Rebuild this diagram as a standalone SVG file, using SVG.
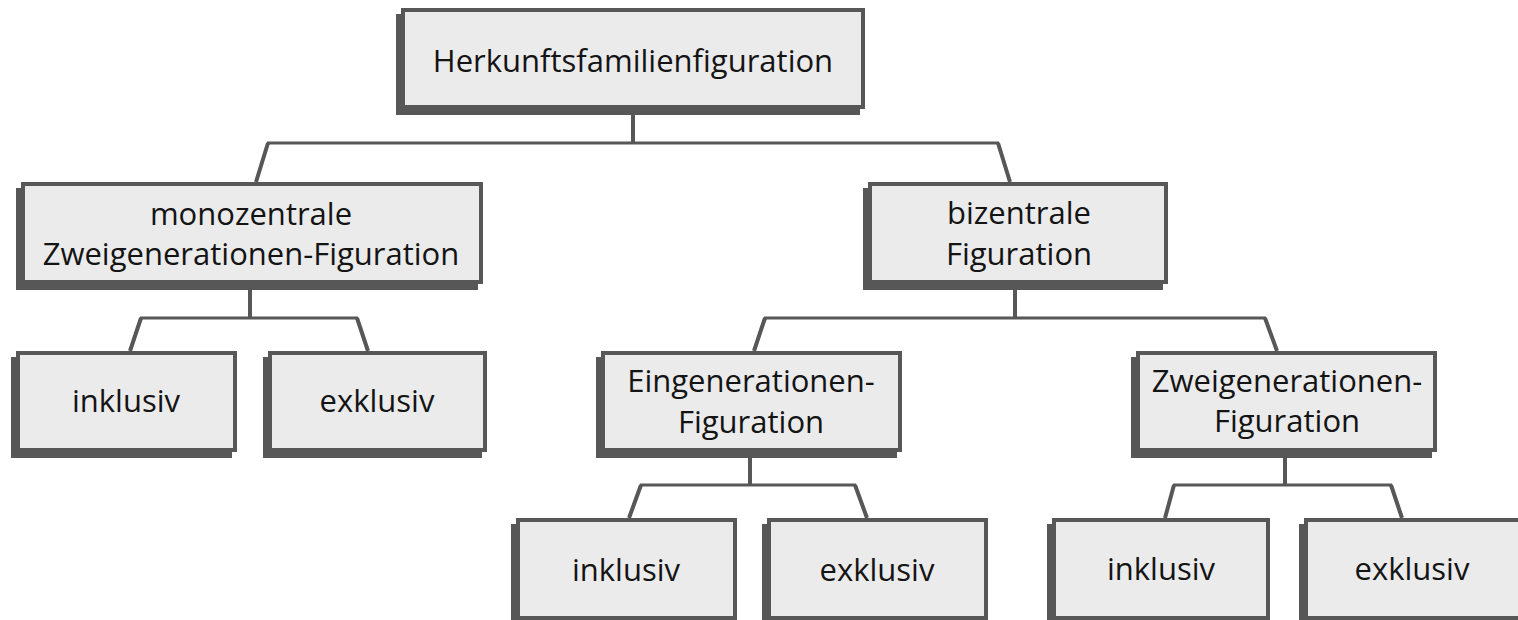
<svg xmlns="http://www.w3.org/2000/svg" width="1518" height="620" viewBox="0 0 1518 620">
<style>
.sh{fill:#575757}
.bx{fill:#ebebeb;stroke:#575757;stroke-width:4}
.t{font-family:"Open Sans","Noto Sans",sans-serif;font-size:31px;fill:#141414;text-anchor:middle}
.c{fill:none;stroke:#575757;stroke-linejoin:miter}
.v{stroke-width:4}
.h{stroke-width:3}
</style>
<rect width="1518" height="620" fill="#ffffff"/>
<g id="connectors">
<path class="c v" d="M633 111V143"/>
<path class="c h" d="M267 143H999"/>
<path class="c v" d="M268 143L256 182M998 143L1010 182"/>
<path class="c v" d="M250 288V318"/>
<path class="c h" d="M140 318H358"/>
<path class="c v" d="M141 318L130 351M357 318L368 351"/>
<path class="c v" d="M1015 288V318"/>
<path class="c h" d="M764 318H1266"/>
<path class="c v" d="M765 318L754 351M1265 318L1277 351"/>
<path class="c v" d="M750 456V485"/>
<path class="c h" d="M640 485H856"/>
<path class="c v" d="M641 485L629 518M855 485L867 518"/>
<path class="c v" d="M1285 456V485"/>
<path class="c h" d="M1173 485H1392"/>
<path class="c v" d="M1174 485L1165 518M1391 485L1402 518"/>
</g>
<g id="root">
<rect class="sh" x="396" y="14" width="464" height="101"/>
<rect class="bx" x="403" y="10" width="460" height="97"/>
<text class="t" x="633" y="72">Herkunftsfamilienfiguration</text>
</g>
<g id="monozentral">
<rect class="sh" x="16" y="188" width="462" height="102"/>
<rect class="bx" x="23" y="184" width="458" height="98"/>
<text class="t" x="251" y="225">monozentrale</text>
<text class="t" x="251" y="265">Zweigenerationen-Figuration</text>
</g>
<g id="bizentral">
<rect class="sh" x="863" y="188" width="300" height="102"/>
<rect class="bx" x="870" y="184" width="296" height="98"/>
<text class="t" x="1019" y="224">bizentrale</text>
<text class="t" x="1019" y="265">Figuration</text>
</g>
<g id="mono-inklusiv">
<rect class="sh" x="11" y="357" width="221" height="101"/>
<rect class="bx" x="18" y="353" width="217" height="97"/>
<text class="t" x="126" y="412">inklusiv</text>
</g>
<g id="mono-exklusiv">
<rect class="sh" x="263" y="357" width="219" height="101"/>
<rect class="bx" x="270" y="353" width="215" height="97"/>
<text class="t" x="377" y="412">exklusiv</text>
</g>
<g id="eingenerationen">
<rect class="sh" x="596" y="357" width="301" height="101"/>
<rect class="bx" x="603" y="353" width="297" height="97"/>
<text class="t" x="751" y="392">Eingenerationen-</text>
<text class="t" x="751" y="433">Figuration</text>
</g>
<g id="zweigenerationen">
<rect class="sh" x="1131" y="357" width="301" height="101"/>
<rect class="bx" x="1138" y="353" width="297" height="97"/>
<text class="t" x="1287" y="392">Zweigenerationen-</text>
<text class="t" x="1287" y="432">Figuration</text>
</g>
<g id="ein-inklusiv">
<rect class="sh" x="511" y="524" width="221" height="102"/>
<rect class="bx" x="518" y="520" width="217" height="98"/>
<text class="t" x="626" y="581">inklusiv</text>
</g>
<g id="ein-exklusiv">
<rect class="sh" x="762" y="524" width="221" height="102"/>
<rect class="bx" x="769" y="520" width="217" height="98"/>
<text class="t" x="877" y="581">exklusiv</text>
</g>
<g id="zwei-inklusiv">
<rect class="sh" x="1047" y="524" width="218" height="102"/>
<rect class="bx" x="1054" y="520" width="214" height="98"/>
<text class="t" x="1161" y="580">inklusiv</text>
</g>
<g id="zwei-exklusiv">
<rect class="sh" x="1299" y="524" width="230" height="102"/>
<rect class="bx" x="1306" y="520" width="226" height="98"/>
<text class="t" x="1412" y="580">exklusiv</text>
</g>
</svg>
